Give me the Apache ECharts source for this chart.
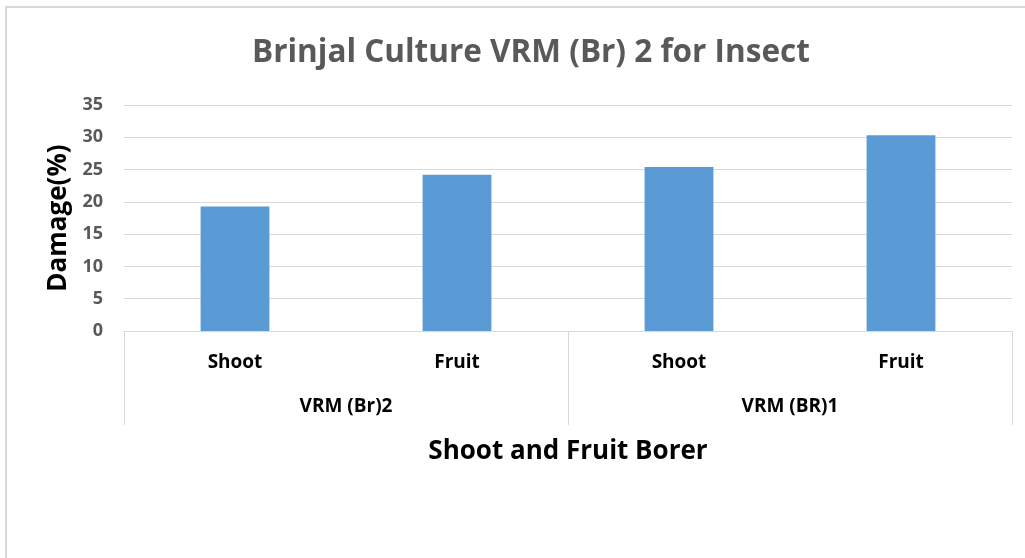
<!DOCTYPE html>
<html>
<head>
<meta charset="utf-8">
<script src="https://cdn.jsdelivr.net/npm/echarts@6/dist/echarts.min.js"></script>
<style>
html,body{margin:0;padding:0;background:#fff;}
#chart{width:1025px;height:558px;}
</style>
</head>
<body>
<div id="chart"></div>
<script>
const titleText = 'Brinjal Culture VRM (Br) 2 for Insect';
const categories = ['Shoot', 'Fruit', 'Shoot', 'Fruit'];
const groups = ['VRM (Br)2', 'VRM (BR)1'];
const damage = [19.3, 24.2, 25.4, 30.3];
const yAxisName = 'Damage(%)';
const xAxisName = 'Shoot and Fruit Borer';

const FONT = 'Open Sans';
const chart = echarts.init(document.getElementById('chart'));
chart.setOption({
  backgroundColor: '#fff',
  animation: false,
  textStyle: { fontFamily: FONT },
  title: {
    text: titleText, left: 247, top: 32,
    textStyle: { fontFamily: FONT, fontSize: 31.5, fontWeight: 'bold', color: '#595959' }
  },
  graphic: [{
    type: 'rect', shape: { x: 6, y: 7, width: 1040, height: 580 },
    style: { fill: 'none', stroke: '#d9d9d9', lineWidth: 2 }, silent: true
  }],
  grid: { left: 124, right: 13, top: 105, bottom: 227 },
  xAxis: [{
    type: 'category', data: categories, position: 'bottom',
    axisLine: { lineStyle: { color: '#d9d9d9', width: 1 } },
    axisTick: { show: false },
    axisLabel: { margin: 22, fontFamily: FONT, fontSize: 19, fontWeight: 'bold', color: '#000' }
  }, {
    type: 'category', data: groups, position: 'bottom',
    axisLine: { show: false },
    axisTick: { show: true, length: 94, alignWithLabel: false, lineStyle: { color: '#d9d9d9' } },
    axisLabel: { margin: 66, fontFamily: FONT, fontSize: 19, fontWeight: 'bold', color: '#000' },
    name: xAxisName, nameLocation: 'middle', nameGap: 108,
    nameTextStyle: { fontFamily: FONT, fontSize: 26, fontWeight: 'bold', color: '#000' }
  }],
  yAxis: {
    type: 'value', min: 0, max: 35, interval: 5,
    axisLine: { show: false }, axisTick: { show: false },
    splitLine: { lineStyle: { color: '#d9d9d9', width: 1 } },
    axisLabel: { margin: 21, fontFamily: FONT, fontSize: 18, fontWeight: 'bold', color: '#595959' },
    name: yAxisName, nameLocation: 'middle', nameGap: 52,
    nameTextStyle: { fontFamily: FONT, fontSize: 26, fontWeight: 'bold', color: '#000' }
  },
  series: [{
    type: 'bar', data: damage, xAxisIndex: 0, barWidth: '31%',
    itemStyle: { color: '#5b9bd5' }
  }]
});
</script>
</body>
</html>
